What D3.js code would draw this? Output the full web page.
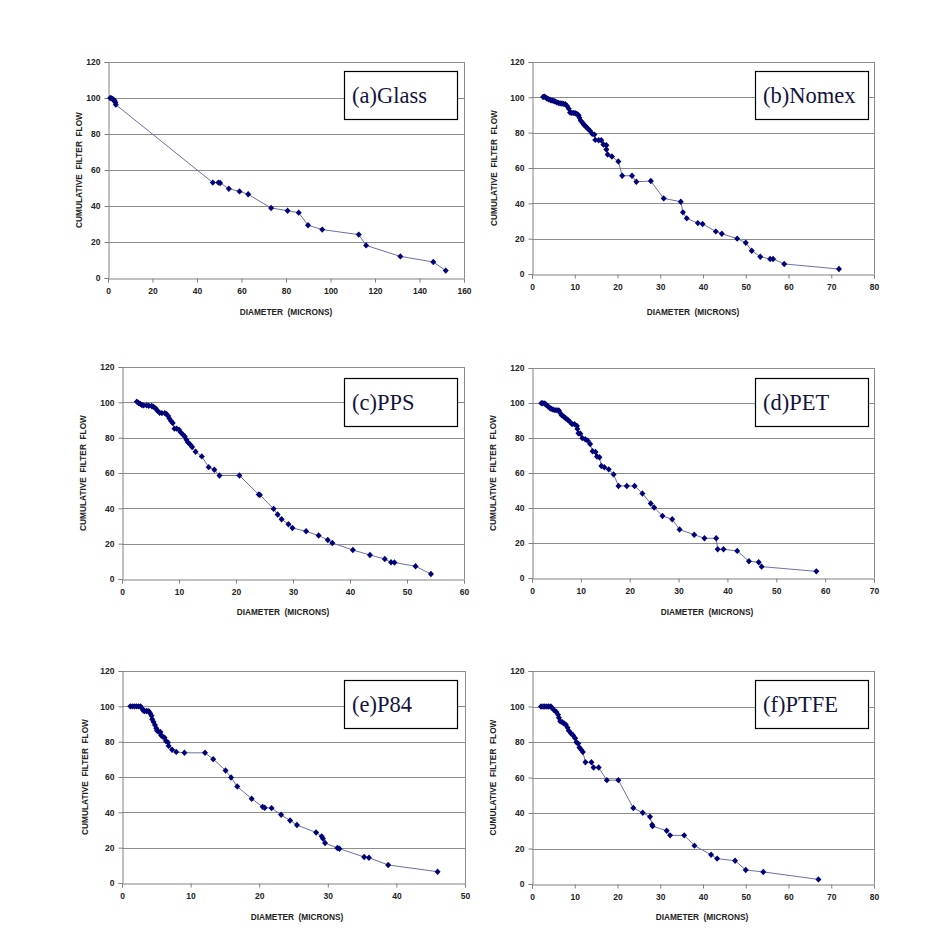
<!DOCTYPE html>
<html><head><meta charset="utf-8">
<script src="https://cdn.jsdelivr.net/npm/d3@7"></script>
<style>body{margin:0;background:#fff}svg{display:block}</style>
</head><body>
<script>
// ---- data ----
const yTicks = [0, 20, 40, 60, 80, 100, 120];
const panelLabels = ["(a)Glass", "(b)Nomex", "(c)PPS", "(d)PET", "(e)P84", "(f)PTFE"];
const xMaxes = [160, 80, 60, 70, 50, 80];
const xSteps = [20, 10, 10, 10, 10, 10];

const glassDiameter = [1.0, 1.5, 2.0, 2.5, 3.0, 3.3, 3.5, 47.1, 49.6, 50.4, 54.3, 59.1, 63.0, 73.3, 80.7, 85.7, 89.9, 96.3, 112.7, 116.0, 131.4, 146.2, 151.8];
const glassFlow = [100, 99.8, 99.5, 99.0, 98.5, 97.5, 96.3, 53.0, 53.0, 52.8, 49.6, 48.1, 46.5, 38.9, 37.4, 36.3, 29.3, 26.9, 24.1, 18.1, 12.0, 8.9, 4.1];

const nomexDiameter = [2.6, 2.9, 3.2, 3.5, 3.9, 4.3, 4.7, 5.1, 5.4, 5.8, 6.2, 6.6, 7.0, 7.4, 7.8, 8.2, 8.6, 8.9, 9.3, 9.7, 10.1, 10.5, 10.9, 11.1, 11.4, 11.8, 12.1, 12.5, 12.8, 13.2, 13.6, 14.1, 14.6, 14.8, 15.6, 16.2, 16.7, 17.4, 17.4, 17.7, 18.7, 20.2, 21.1, 23.4, 24.4, 27.8, 30.8, 34.8, 35.3, 36.2, 38.8, 39.9, 43.0, 44.4, 48.0, 50.0, 51.4, 53.4, 55.7, 56.4, 59.0, 71.8];
const nomexFlow = [100.2, 100.4, 100, 99.3, 98.9, 98.5, 98.2, 98, 97.6, 97.2, 96.8, 96.6, 96.5, 96.3, 96.1, 95.1, 93.6, 91.4, 91.2, 91.2, 91, 90.6, 89.9, 88.4, 86.8, 85.7, 84.6, 83.6, 82.9, 82, 81, 79.3, 78.9, 75.9, 75.7, 75.7, 73.3, 72.9, 70.5, 67.6, 66.5, 63.7, 55.6, 55.6, 52.2, 52.6, 42.8, 40.9, 34.9, 31.5, 28.8, 28.3, 24.1, 22.8, 20, 17.7, 13.2, 9.8, 8.5, 8.5, 5.7, 2.8];

const ppsDiameter = [2.6, 2.9, 3.2, 3.5, 3.8, 4.3, 4.7, 5.2, 5.5, 5.9, 6.2, 6.6, 7.0, 7.5, 7.8, 8.1, 8.3, 8.6, 8.9, 9.2, 9.6, 10.0, 10.3, 10.7, 11.0, 11.3, 11.6, 12.0, 12.3, 12.9, 14.0, 15.2, 16.2, 17.1, 20.6, 24.0, 24.2, 26.6, 27.3, 28.0, 29.2, 29.9, 32.3, 34.5, 36.1, 36.9, 40.5, 43.5, 46.1, 47.2, 47.8, 51.5, 54.2];
const ppsFlow = [100.4, 99.6, 99.1, 98.5, 98.3, 98.3, 98.1, 97.9, 97.5, 96.6, 95.3, 94.1, 93.9, 93.9, 93.4, 92.2, 90.9, 89.4, 88.3, 85.1, 85.1, 84.5, 83.0, 81.7, 80.7, 78.8, 77.3, 76.0, 74.7, 72.0, 69.4, 63.3, 61.8, 58.6, 58.6, 47.8, 47.6, 39.7, 36.5, 33.8, 31.0, 28.9, 27.0, 24.6, 22.1, 20.4, 16.4, 13.6, 11.3, 9.5, 9.3, 7.2, 2.8];

const petDiameter = [1.9, 2.2, 2.6, 2.9, 3.3, 3.6, 3.9, 4.3, 4.7, 5.1, 5.5, 5.8, 6.1, 6.5, 6.9, 7.3, 7.7, 8.2, 8.7, 9.2, 9.3, 9.5, 9.9, 10.3, 10.9, 11.4, 11.9, 12.4, 13.0, 13.3, 13.8, 14.2, 14.8, 15.7, 16.7, 17.7, 19.4, 21.0, 22.6, 24.3, 25.0, 26.7, 28.7, 30.2, 33.2, 35.3, 37.7, 38.0, 39.2, 42.0, 44.4, 46.4, 47.0, 58.2];
const petFlow = [99.9, 99.9, 99.7, 99.0, 98.0, 97.3, 96.7, 96.3, 95.9, 95.9, 95.7, 94.2, 92.9, 92.3, 91.3, 90.4, 89.4, 87.9, 87.9, 86.9, 85.2, 82.7, 82.4, 79.9, 79.3, 78.5, 76.6, 72.4, 72.0, 69.4, 69.0, 64.0, 63.3, 62.1, 59.2, 52.6, 52.6, 52.6, 48.3, 42.6, 40.3, 35.4, 33.6, 27.7, 24.7, 22.7, 22.7, 16.4, 16.4, 15.5, 9.6, 9.0, 6.5, 3.8];

const p84Diameter = [1.2, 1.5, 1.8, 2.1, 2.4, 2.7, 2.9, 3.1, 3.3, 3.6, 3.9, 4.1, 4.3, 4.4, 4.6, 4.8, 5.0, 5.1, 5.3, 5.6, 5.7, 5.9, 6.2, 6.4, 6.7, 6.8, 7.3, 7.9, 9.1, 12.1, 13.3, 15.1, 15.9, 16.8, 18.9, 20.5, 20.8, 21.8, 23.2, 24.5, 25.5, 28.3, 29.1, 29.3, 29.6, 31.4, 31.7, 35.3, 36.0, 38.8, 46.0];
const p84Flow = [100, 100, 100, 100, 100, 100, 98.9, 97.6, 97.4, 97.4, 97.2, 96.1, 94.6, 92.7, 91.2, 89.5, 87.6, 86.3, 85.7, 85.5, 83.6, 82.9, 82.3, 80.4, 79.5, 77.6, 75.4, 74.2, 73.7, 73.7, 70.1, 63.7, 59.7, 54.6, 47.7, 43.1, 42.6, 42.4, 38.6, 35.4, 32.8, 28.6, 26.4, 25.1, 22.6, 19.8, 19.4, 14.7, 14.3, 10.2, 6.4];

const ptfeDiameter = [2.1, 2.6, 3.0, 3.5, 3.9, 4.4, 4.7, 5.2, 5.7, 6.1, 6.3, 6.6, 7.1, 7.5, 7.9, 8.3, 8.6, 9.1, 9.6, 10.1, 10.4, 10.8, 11.1, 11.5, 11.9, 12.5, 13.9, 14.4, 15.6, 17.5, 20.2, 23.7, 25.9, 27.6, 28.1, 28.2, 31.5, 32.3, 35.6, 38.0, 41.9, 43.3, 47.5, 50.0, 54.1, 67.0];
const ptfeFlow = [100, 100, 100, 100, 100, 100, 99.2, 97.9, 96.9, 95.4, 93.6, 91.7, 91.1, 90.4, 89.8, 88.1, 86.4, 84.9, 83.8, 82.1, 79.9, 79.1, 76.9, 75.7, 74.4, 68.6, 68.6, 65.6, 65.6, 58.5, 58.5, 42.8, 40.1, 37.9, 33.4, 32.6, 30.0, 27.4, 27.4, 21.6, 16.5, 14.3, 13.1, 7.9, 6.8, 2.6];

const seriesX = [glassDiameter, nomexDiameter, ppsDiameter, petDiameter, p84Diameter, ptfeDiameter];
const seriesY = [glassFlow, nomexFlow, ppsFlow, petFlow, p84Flow, ptfeFlow];

// ---- layout (pixels) ----
const layout = [
  {l:108, r:464, t:62, b:278, yl:79, xlx:286, xly:312, bx:344, by:71},
  {l:532, r:874, t:62, b:274, yl:494, xlx:693, xly:312, bx:755, by:71},
  {l:122, r:464, t:367, b:579, yl:83, xlx:283, xly:612, bx:344, by:378},
  {l:532, r:874, t:368, b:578, yl:493, xlx:707, xly:612, bx:755, by:378},
  {l:122, r:465, t:671, b:883, yl:85, xlx:297, xly:917, bx:344, by:680},
  {l:532, r:874, t:671, b:884, yl:493, xlx:702, xly:917, bx:755, by:680}
];

const W = 948, H = 947;
const svg = d3.select("body").append("svg").attr("width", W).attr("height", H);
const tickFont = "Liberation Sans, Arial, sans-serif";
const diamond = { draw(ctx, size) { const w = 3.0, h = 3.2; ctx.moveTo(0,-h); ctx.lineTo(w,0); ctx.lineTo(0,h); ctx.lineTo(-w,0); ctx.closePath(); } };

layout.forEach((L, i) => {
  const g = svg.append("g");
  const x = d3.scaleLinear().domain([0, xMaxes[i]]).range([L.l, L.r]);
  const y = d3.scaleLinear().domain([0, 120]).range([L.b, L.t]);
  const xt = d3.range(0, xMaxes[i] + 0.001, xSteps[i]);

  // gridlines
  g.append("g").selectAll("line").data(yTicks.slice(1)).join("line")
    .attr("x1", L.l).attr("x2", L.r).attr("y1", d => Math.round(y(d)) + 0.5).attr("y2", d => Math.round(y(d)) + 0.5)
    .attr("stroke", "#8c8c8c").attr("stroke-width", 1);
  // right border
  g.append("line").attr("x1", L.r + 0.5).attr("x2", L.r + 0.5).attr("y1", L.t).attr("y2", L.b)
    .attr("stroke", "#8c8c8c");

  // axes
  const xa = g.append("g").attr("transform", `translate(0,${Math.round(L.b) + 0.5})`)
    .call(d3.axisBottom(x).tickValues(xt).tickSize(4).tickPadding(5).tickFormat(d3.format("d")));
  const ya = g.append("g").attr("transform", `translate(${Math.round(L.l) + 0.5},0)`)
    .call(d3.axisLeft(y).tickValues(yTicks).tickSize(4).tickPadding(4).tickFormat(d3.format("d")));
  [xa, ya].forEach(a => {
    a.select(".domain").attr("stroke", "#808080");
    a.selectAll(".tick line").attr("stroke", "#808080");
    a.selectAll("text").attr("font-family", tickFont).attr("font-weight", "bold")
      .attr("font-size", "8.5px").attr("fill", "#222");
  });

  // axis titles
  g.append("text").attr("transform", `translate(${L.yl},${(L.t + L.b) / 2}) rotate(-90)`)
    .attr("text-anchor", "middle").attr("dominant-baseline", "central")
    .attr("font-family", tickFont).attr("font-weight", "bold").attr("font-size", "8.3px").attr("fill", "#222")
    .attr("xml:space", "preserve").text("CUMULATIVE  FILTER  FLOW");
  g.append("text").attr("x", L.xlx).attr("y", L.xly)
    .attr("text-anchor", "middle").attr("dominant-baseline", "central")
    .attr("font-family", tickFont).attr("font-weight", "bold").attr("font-size", "8.3px").attr("fill", "#222")
    .attr("xml:space", "preserve").text("DIAMETER  (MICRONS)");

  // series
  const pts = seriesX[i].map((v, k) => [v, seriesY[i][k]]);
  g.append("path").datum(pts)
    .attr("d", d3.line().x(d => x(d[0])).y(d => y(d[1])))
    .attr("fill", "none").attr("stroke", "#6f6fa8").attr("stroke-width", 1);
  g.append("g").selectAll("path").data(pts).join("path")
    .attr("transform", d => `translate(${x(d[0])},${y(d[1])})`)
    .attr("d", d3.symbol().type(diamond)())
    .attr("fill", "#00007a");

  // label box
  g.append("rect").attr("x", L.bx + 0.5).attr("y", L.by + 0.5).attr("width", 113).attr("height", 48)
    .attr("fill", "#fff").attr("stroke", "#000").attr("stroke-width", 1.2);
  g.append("text").attr("x", L.bx + 8).attr("y", L.by + 32)
    .attr("font-family", "Liberation Serif, Times New Roman, serif").attr("font-size", "22.5px").attr("fill", "#14143c")
    .text(panelLabels[i]);
});
</script>
</body></html>
